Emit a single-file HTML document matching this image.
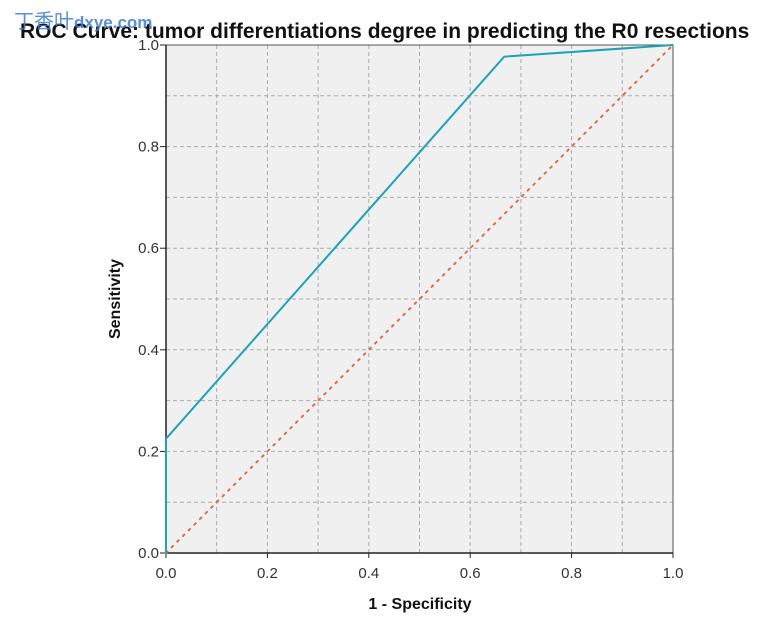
<!DOCTYPE html>
<html><head><meta charset="utf-8"><style>
body{margin:0;background:#fff;width:765px;height:630px;overflow:hidden;font-family:"Liberation Sans",sans-serif}
</style></head><body>
<svg width="765" height="630" id="c">
<text x="20" y="38" font-size="21" font-weight="bold" fill="#111">ROC Curve: tumor differentiations degree in predicting the R0 resections</text>
<text x="14" y="28" font-size="20" fill="#3a7bd5" opacity="0.85" font-family="'Liberation Sans','Noto Sans CJK SC',sans-serif">丁香叶<tspan font-weight="bold" font-size="17">dxye.com</tspan></text>
<text x="420" y="609" font-size="16" font-weight="bold" text-anchor="middle" fill="#111">1 - Specificity</text>
<text transform="translate(120,299) rotate(-90)" font-size="16" font-weight="bold" text-anchor="middle" fill="#111">Sensitivity</text>
</svg>
<script>
const xTicks=["0.0","0.2","0.4","0.6","0.8","1.0"];
const yTicks=["0.0","0.2","0.4","0.6","0.8","1.0"];
const rocFpr=[0,0,0.667,1];
const rocTpr=[0,0.225,0.977,1];
const refX=[0,1];const refY=[0,1];
const L=166,R=673,T=45,B=553;
const sx=v=>L+v*(R-L), sy=v=>B-v*(B-T);
const svg=document.getElementById('c');const ns='http://www.w3.org/2000/svg';
function mk(t,a){const e=document.createElementNS(ns,t);for(const k in a)e.setAttribute(k,a[k]);svg.appendChild(e);return e;}
const bg=mk('rect',{x:L,y:T,width:R-L,height:B-T,fill:'#f0f0f0'});


for(let i=1;i<10;i++){const v=i/10;
 const g1=mk('line',{x1:sx(v),x2:sx(v),y1:T,y2:B,stroke:'#aaa','stroke-dasharray':'4,3','stroke-width':1});
 
 
 const g2=mk('line',{x1:L,x2:R,y1:sy(v),y2:sy(v),stroke:'#aaa','stroke-dasharray':'4,3','stroke-width':1});
 
 }
const fr=mk('rect',{x:L,y:T,width:R-L,height:B-T,fill:'none',stroke:'#555','stroke-width':1});


mk('line',{x1:L,x2:L,y1:T,y2:B,stroke:'#222','stroke-width':1.5});
mk('line',{x1:L,x2:R,y1:B,y2:B,stroke:'#222','stroke-width':1.5});
xTicks.forEach((t,i)=>{const v=i/5;mk('line',{x1:sx(v),x2:sx(v),y1:B,y2:B+5,stroke:'#222'});
 const e=mk('text',{x:sx(v),y:B+25,'font-size':15,'text-anchor':'middle',fill:'#333'});e.textContent=t;
 
 });
yTicks.forEach((t,i)=>{const v=i/5;mk('line',{x1:L-6,x2:L,y1:sy(v),y2:sy(v),stroke:'#222'});
 const e=mk('text',{x:L-7,y:sy(v)+5,'font-size':15,'text-anchor':'end',fill:'#333'});e.textContent=t;
 
 });
const ref=mk('polyline',{points:refX.map((x,i)=>sx(x)+','+sy(refY[i])).join(' '),fill:'none',stroke:'#d9704a','stroke-width':2,'stroke-dasharray':'2,6','stroke-linecap':'round'});


const roc=mk('polyline',{points:rocFpr.map((x,i)=>sx(x)+','+sy(rocTpr[i])).join(' '),fill:'none',stroke:'#1ba3b8','stroke-width':2});


</script>
</body></html>
